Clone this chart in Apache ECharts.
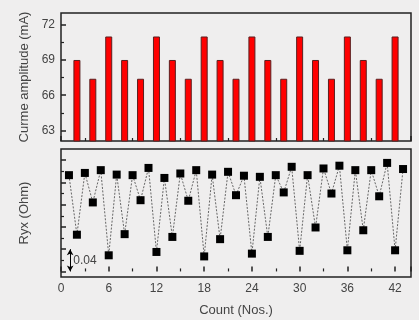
<!DOCTYPE html>
<html><head><meta charset="utf-8">
<script src="https://cdn.jsdelivr.net/npm/echarts@6/dist/echarts.min.js"></script>
<style>html,body{margin:0;padding:0;background:#efeeee;}#c{width:419px;height:320px;}</style>
</head><body><div id="c"></div>
<script>
// ---- data ----
const barCounts = [2,4,6,8,10,12,14,16,18,20,22,24,26,28,30,32,34,36,38,40,42];
const currentValues = [69,67.4,71,69,67.4,71,69,67.4,71,69,67.4,71,69,67.4,71,69,67.4,71,69,67.4,71];
const ryxCounts = [1,2,3,4,5,6,7,8,9,10,11,12,13,14,15,16,17,18,19,20,21,22,23,24,25,26,27,28,29,30,31,32,33,34,35,36,37,38,39,40,41,42,43];
const ryxValues = [0.173,0.066,0.177,0.124,0.182,0.029,0.174,0.067,0.173,0.128,0.186,0.035,0.168,0.062,0.176,0.127,0.182,0.027,0.174,0.058,0.179,0.137,0.172,0.032,0.170,0.062,0.173,0.142,0.188,0.037,0.173,0.079,0.185,0.140,0.190,0.038,0.182,0.074,0.182,0.135,0.195,0.038,0.184];
const topMajorTicks = [63,66,69,72];
const topMinorTicks = [64.5,67.5,70.5];
const botMajorTicks = [0,0.04,0.08,0.12,0.16,0.20];
const botMinorTicks = [0.02,0.06,0.10,0.14,0.18];
const scaleBar = [0,0.04];

const chart = echarts.init(document.getElementById('c'), null, {renderer:'canvas'});
const font = 'Liberation Sans, Arial, sans-serif';
const ink = '#222';
const txt = '#444';
const baseX = (gi, showLabel) => ({
  type:'value', gridIndex:gi, min:0, max:44, interval:6,
  axisLine:{show:false},
  axisTick:{show:true, inside:true, length:5, lineStyle:{color:ink, width:1.5}},
  minorTick:{show:true, splitNumber:2, length:3, lineStyle:{color:ink, width:1.2}},
  splitLine:{show:false}, minorSplitLine:{show:false},
  axisLabel:{show:showLabel, showMaxLabel:false, margin:6, color:txt, fontSize:12, fontFamily:font},
});
chart.setOption({
  backgroundColor:'#efeeee',
  animation:false,
  grid:[
    {left:61, top:13, width:350, height:128, show:true, borderColor:ink, borderWidth:1.5},
    {left:61, top:149, width:350, height:128, show:true, borderColor:ink, borderWidth:1.5}
  ],
  xAxis:[
    baseX(0,false),
    Object.assign(baseX(1,true), {name:'Count (Nos.)', nameLocation:'middle', nameGap:27,
      nameTextStyle:{color:txt, fontSize:13, fontFamily:font}})
  ],
  yAxis:[
    {type:'value', gridIndex:0, min:62.1, max:73,
      name:'Curme amplitude (mA)', nameLocation:'middle', nameGap:30,
      nameTextStyle:{color:txt, fontSize:13, fontFamily:font},
      axisLine:{show:false}, splitLine:{show:false},
      axisTick:{show:true, inside:true, length:5, customValues:topMajorTicks, lineStyle:{color:ink,width:1.5}},
      axisLabel:{show:true, customValues:topMajorTicks, margin:6, color:txt, fontSize:12, fontFamily:font}},
    {type:'value', gridIndex:0, min:62.1, max:73, position:'left',
      axisLine:{show:false}, splitLine:{show:false}, axisLabel:{show:false},
      axisTick:{show:true, inside:true, length:3, customValues:topMinorTicks, lineStyle:{color:ink,width:1.2}}},
    {type:'value', gridIndex:1, min:-0.01, max:0.22,
      name:'Ryx (Ohm)', nameLocation:'middle', nameGap:30,
      nameTextStyle:{color:txt, fontSize:13, fontFamily:font},
      axisLine:{show:false}, splitLine:{show:false}, axisLabel:{show:false},
      axisTick:{show:true, inside:true, length:5, customValues:botMajorTicks, lineStyle:{color:ink,width:1.5}}},
    {type:'value', gridIndex:1, min:-0.01, max:0.22, position:'left',
      axisLine:{show:false}, splitLine:{show:false}, axisLabel:{show:false},
      axisTick:{show:true, inside:true, length:3, customValues:botMinorTicks, lineStyle:{color:ink,width:1.2}}}
  ],
  series:[
    {type:'bar', xAxisIndex:0, yAxisIndex:0, barWidth:7,
      data: barCounts.map((c,i)=>[c,currentValues[i]]),
      itemStyle:{color:'#ff0000', borderColor:'#5a2020', borderWidth:1}},
    {type:'line', xAxisIndex:1, yAxisIndex:2,
      data: ryxCounts.map((c,i)=>[c,ryxValues[i]]),
      symbol:'rect', symbolSize:8, showAllSymbol:true,
      itemStyle:{color:'#000'},
      lineStyle:{color:'#666', width:1, type:[2,1.5]},
      markLine:{silent:true, symbol:['arrow','arrow'], symbolSize:[5,6],
        lineStyle:{color:'#000', width:1, type:'solid'}, label:{show:false},
        data:[[{coord:[1.15,scaleBar[0]]},{coord:[1.15,scaleBar[1]]}]]},
      markPoint:{silent:true, symbol:'circle', symbolSize:0,
        label:{show:true, position:'right', formatter:'0.04', color:txt, fontSize:12, fontFamily:font, distance:2},
        data:[{coord:[1.3,(scaleBar[0]+scaleBar[1])/2]}]}
    }
  ]
});
</script></body></html>
